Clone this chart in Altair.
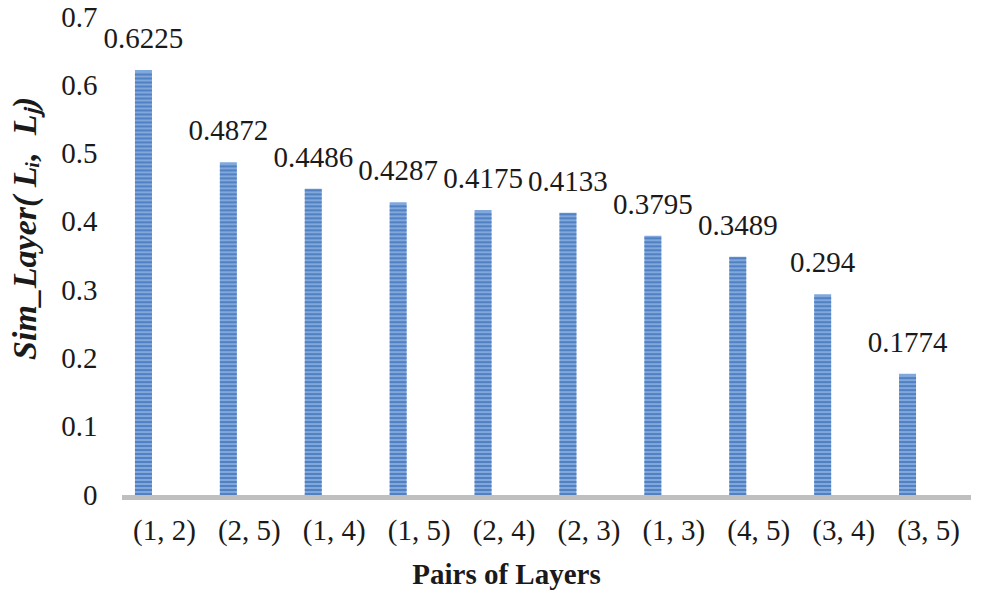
import altair as alt
import pandas as pd

pairs = ["(1, 2)", "(2, 5)", "(1, 4)", "(1, 5)", "(2, 4)", "(2, 3)", "(1, 3)", "(4, 5)", "(3, 4)", "(3, 5)"]
values = [0.6225, 0.4872, 0.4486, 0.4287, 0.4175, 0.4133, 0.3795, 0.3489, 0.294, 0.1774]
labels = ["0.6225", "0.4872", "0.4486", "0.4287", "0.4175", "0.4133", "0.3795", "0.3489", "0.294", "0.1774"]
y_ticks = [0, 0.1, 0.2, 0.3, 0.4, 0.5, 0.6, 0.7]

df = pd.DataFrame({"pair": pairs, "value": values, "label": labels})

W, H = 849, 478
FONT = "Liberation Serif, Times New Roman, serif"
TXT = "#1a1a1a"
NB = "\u00a0"

x = alt.X("pair:N", sort=pairs,
          scale=alt.Scale(paddingInner=0, paddingOuter=0),
          axis=alt.Axis(title="Pairs of Layers", titleFont=FONT, titleFontSize=29,
                        titleFontWeight="bold", titleColor=TXT,
                        titleX=384, titleY=88, titleBaseline="alphabetic",
                        labelFont=FONT, labelFontSize=29, labelColor=TXT,
                        labelAngle=0, labelPadding=21, ticks=False, domain=False))
y = alt.Y("value:Q",
          scale=alt.Scale(domain=[0, 0.7], nice=False),
          axis=alt.Axis(values=y_ticks, format=".1~f",
                        title="Sim_Layer(" + NB + "Lᵢ," + NB * 2 + "Lⱼ)",
                        titleFont=FONT, titleFontSize=34, titleFontWeight="bold",
                        titleFontStyle="italic", titleColor=TXT, titleAngle=270,
                        titleX=-87, titleY=211, titleAlign="center",
                        titleBaseline="alphabetic",
                        labelFont=FONT, labelFontSize=29, labelColor=TXT,
                        labelPadding=25, ticks=False, domain=False, grid=False))

base = alt.Chart(df)

bars = base.mark_bar(width=17, xOffset=-21, color="#80a8dd").encode(x=x, y=y)

stripes = base.transform_calculate(
    s="sequence(0.0015, datum.value - 0.0015, 0.00585)"
).transform_flatten(["s"]).mark_tick(
    orient="horizontal", size=17, thickness=2, xOffset=-21, color="#3f70b5"
).encode(x=alt.X("pair:N", sort=pairs), y=alt.Y("s:Q"))

text = base.mark_text(font=FONT, fontSize=29, color=TXT, baseline="alphabetic",
                      dy=-22, xOffset=-21).encode(x=alt.X("pair:N", sort=pairs),
                                                 y=alt.Y("value:Q"), text="label:N")

baseline = alt.Chart(pd.DataFrame({"v": [0]})).mark_rule(
    color="#bfbfbf", strokeWidth=5
).encode(x=alt.value(0), x2=alt.value(W), y=alt.value(H + 2.5))

chart = alt.layer(bars, stripes, baseline, text).properties(
    width=W, height=H,
    autosize=alt.AutoSizeParams(type="none"),
    padding={"left": 114, "top": 9, "right": 6, "bottom": 95},
).configure_view(stroke=None)

chart.save("out.html", embed_options={"renderer": "svg", "actions": False})
